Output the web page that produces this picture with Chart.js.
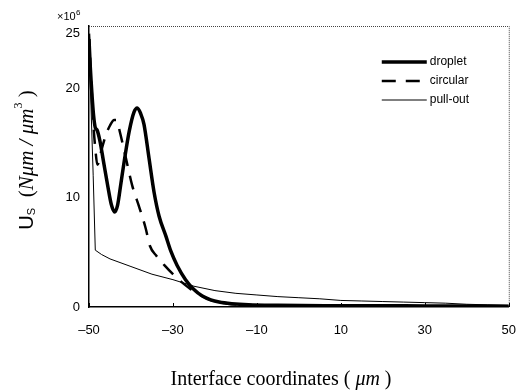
<!DOCTYPE html>
<html lang="en">
<head>
<meta charset="UTF-8">
<title>Interface energy</title>
<script src="https://cdn.jsdelivr.net/npm/chart.js"></script>
<style>
    body {
        margin: 0;
        background: #fff;
    }

    .wrap {
        width: 532px;
        height: 392px;
        position: relative;
    }
</style>
</head>
<body>
<div class="wrap"><canvas id="myChart"></canvas></div>
<script>
    const xTicks = [-50, -30, -10, 10, 30, 50];
    const yTicks = [0, 10, 20, 25];

    const seriesNames = ['droplet', 'circular', 'pull-out'];

    const dropletX = [-50, -49.7, -49.3, -48.9, -48.5, -48.1, -47.4, -46.5, -45.5, -44.7, -43.9, -43.2, -42.4, -41.5, -40.4, -39.3, -38.5, -37.7, -36.9, -35.7, -34.5, -33.3, -31.7, -30.5, -29, -27, -25, -23, -21, -19, -16, -12, -5, 10, 30, 50];
    const dropletY = [24.5, 22, 19.5, 17.5, 16.4, 16.2, 15.2, 13.2, 11, 9.4, 8.7, 9.3, 11.3, 13.6, 16.1, 17.8, 18.2, 17.7, 16.7, 13.6, 10.5, 8.3, 6.5, 5.1, 3.8, 2.5, 1.6, 1.0, 0.65, 0.45, 0.3, 0.2, 0.15, 0.12, 0.1, 0.08];

    const circularX = [-50, -49.5, -49, -48.5, -48, -47, -46, -45, -44, -43.4, -42.7, -41.2, -39.7, -38, -36.5, -35.5, -34, -32, -30, -28, -26, -24, -22, -20, -17, -13, -5, 10, 30, 50];
    const circularY = [25, 21, 17, 14.5, 13, 14.4, 15.7, 16.6, 17.1, 17.1, 16.1, 13.6, 11.1, 9.1, 7.2, 5.6, 4.7, 3.8, 3.0, 2.3, 1.7, 1.2, 0.8, 0.5, 0.3, 0.2, 0.12, 0.08, 0.06, 0.05];

    const pulloutX = [-50, -49, -48.5, -47, -45, -40, -35, -30, -25, -20, -15, -10, -5, 0, 5, 10, 15, 20, 25, 30, 35, 40, 45, 50];
    const pulloutY = [24, 12, 5.2, 4.8, 4.4, 3.7, 3.0, 2.5, 1.9, 1.5, 1.25, 1.1, 0.95, 0.85, 0.75, 0.6, 0.55, 0.5, 0.45, 0.4, 0.35, 0.25, 0.2, 0.15];

    const toPoints = (xs, ys) => xs.map((x, i) => ({ x: x, y: ys[i] }));

    const sans = '"Liberation Sans", Arial, sans-serif';
    const serif = '"Liberation Serif", "Times New Roman", serif';

    // draws pieces of mixed-font text one after another
    function drawRuns(ctx, runs) {
        let total = 0;
        runs.forEach(r => { ctx.font = r.font; total += ctx.measureText(r.text).width; });
        let x = -total / 2;
        runs.forEach(r => {
            ctx.font = r.font;
            ctx.fillText(r.text, x, r.dy || 0);
            x += ctx.measureText(r.text).width;
        });
    }

    // frame, axis titles, exponent and legend
    const decorations = {
        id: 'decorations',
        afterDraw(chart) {
            const ctx = chart.ctx;
            const area = chart.chartArea;
            ctx.save();

            ctx.strokeStyle = '#444';
            ctx.lineWidth = 1;
            ctx.setLineDash([1, 1]);
            ctx.beginPath();
            ctx.moveTo(area.left, area.top + 0.5);
            ctx.lineTo(area.right + 0.5, area.top + 0.5);
            ctx.lineTo(area.right + 0.5, area.bottom);
            ctx.stroke();
            ctx.setLineDash([]);

            // small inward ticks on the x axis
            ctx.strokeStyle = '#000';
            ctx.beginPath();
            xTicks.forEach(v => {
                const px = Math.round(chart.scales.x.getPixelForValue(v)) + 0.5;
                ctx.moveTo(px, area.bottom);
                ctx.lineTo(px, area.bottom - 4);
            });
            ctx.stroke();

            ctx.fillStyle = '#000';
            ctx.textBaseline = 'middle';
            ctx.textAlign = 'left';

            // x10^6
            ctx.font = '11px ' + sans;
            ctx.fillText('×10', 57, 17);
            ctx.font = '8px ' + sans;
            ctx.fillText('6', 76, 13);

            // x title
            ctx.save();
            ctx.translate(281, 380);
            drawRuns(ctx, [
                { text: 'Interface coordinates ( ', font: '20px ' + serif },
                { text: 'μm', font: 'italic 20px ' + serif },
                { text: ' )', font: '20px ' + serif }
            ]);
            ctx.restore();

            // y title
            ctx.save();
            ctx.translate(27, 160);
            ctx.rotate(-Math.PI / 2);
            drawRuns(ctx, [
                { text: 'U', font: '20px ' + sans },
                { text: 'S', font: '11px ' + sans, dy: 5 },
                { text: '  (', font: '21px ' + serif },
                { text: 'Nμm / μm', font: 'italic 21px ' + serif },
                { text: '3', font: '12px ' + serif, dy: -8 },
                { text: ' )', font: '21px ' + serif }
            ]);
            ctx.restore();

            // legend
            const styles = [
                { width: 3.5, dash: [] },
                { width: 2.5, dash: [14, 10] },
                { width: 1, dash: [] }
            ];
            const x0 = area.right - 127;
            const x1 = area.right - 82;
            seriesNames.forEach((name, i) => {
                const y = area.top + 36 + i * 19;
                ctx.strokeStyle = '#000';
                ctx.lineWidth = styles[i].width;
                ctx.setLineDash(styles[i].dash);
                ctx.beginPath();
                ctx.moveTo(x0, y);
                ctx.lineTo(x1, y);
                ctx.stroke();
                ctx.setLineDash([]);
                ctx.font = '12px ' + sans;
                ctx.fillText(name, x1 + 3, y);
            });

            ctx.restore();
        }
    };

    const canvas = document.getElementById('myChart');
    const tickFont = { family: sans, size: 13 };

    const chart = new Chart(canvas.getContext('2d'), {
        type: 'line',
        data: {
            datasets: [{
                label: seriesNames[0],
                data: toPoints(dropletX, dropletY),
                borderColor: '#000',
                borderWidth: 3.5,
                pointRadius: 0,
                cubicInterpolationMode: 'monotone'
            }, {
                label: seriesNames[1],
                data: toPoints(circularX, circularY),
                borderColor: '#000',
                borderWidth: 2.5,
                borderDash: [14, 10],
                pointRadius: 0,
                cubicInterpolationMode: 'monotone'
            }, {
                label: seriesNames[2],
                data: toPoints(pulloutX, pulloutY),
                borderColor: '#000',
                borderWidth: 1,
                pointRadius: 0,
                tension: 0
            }]
        },
        options: {
            responsive: true,
            maintainAspectRatio: false,
            animation: false,
            layout: { padding: { top: 26, right: 17, left: 0, bottom: 0 } },
            plugins: {
                legend: { display: false },
                tooltip: { enabled: false }
            },
            scales: {
                x: {
                    type: 'linear',
                    min: -50,
                    max: 50,
                    afterBuildTicks: s => { s.ticks = xTicks.map(v => ({ value: v })); },
                    afterFit: s => { s.height = 85; },
                    grid: { display: false, drawTicks: false },
                    border: { color: '#000', width: 1.5 },
                    ticks: {
                        color: '#000',
                        font: tickFont,
                        padding: 16,
                        autoSkip: false,
                        maxRotation: 0,
                        callback: v => v < 0 ? '–' + Math.abs(v) : String(v)
                    }
                },
                y: {
                    min: 0,
                    max: 25.7,
                    afterBuildTicks: s => { s.ticks = yTicks.map(v => ({ value: v })); },
                    afterFit: s => { s.width = 89; },
                    grid: { display: false, drawTicks: false },
                    border: { color: '#000', width: 1.5 },
                    ticks: {
                        color: '#000',
                        font: tickFont,
                        padding: 9,
                        autoSkip: false
                    }
                }
            }
        },
        plugins: [decorations]
    });
</script>
</body>
</html>
